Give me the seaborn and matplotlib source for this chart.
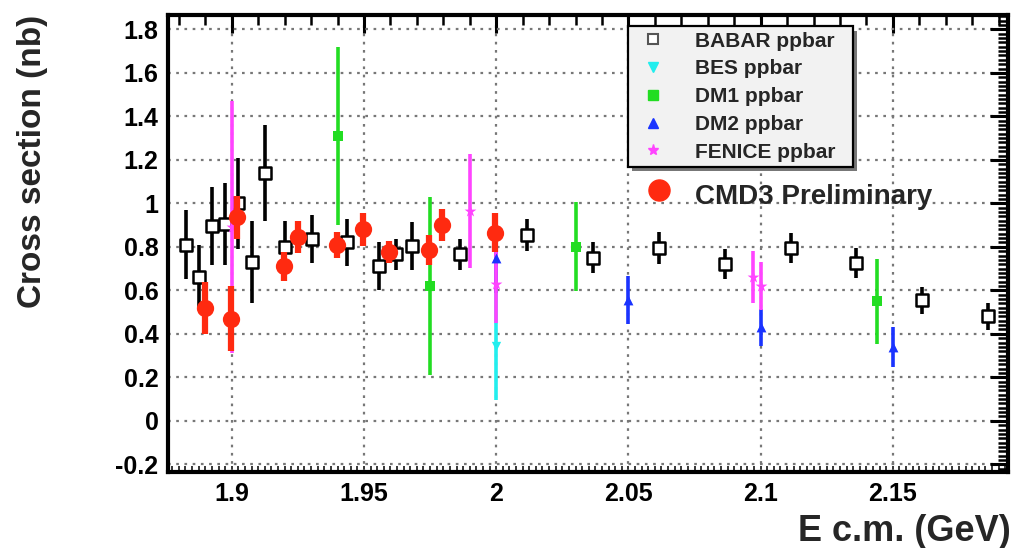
import numpy as np
import matplotlib
matplotlib.use("Agg")
import matplotlib.pyplot as plt
import seaborn as sns
from matplotlib.lines import Line2D
from matplotlib.ticker import MultipleLocator
import matplotlib.patheffects as pe

# ---- data ----
babar_x = [1.8826, 1.8875, 1.8925, 1.8975, 1.9025, 1.9075, 1.9125, 1.9200, 1.9305, 1.9435,
           1.9555, 1.9620, 1.9680, 1.9865, 2.0115, 2.0365, 2.0615, 2.0865, 2.1115, 2.1360,
           2.1610, 2.1860]
babar_y = [0.81, 0.66, 0.895, 0.905, 1.00, 0.73, 1.14, 0.80, 0.835, 0.82,
           0.71, 0.765, 0.805, 0.765, 0.855, 0.75, 0.795, 0.72, 0.795, 0.725,
           0.555, 0.48]
babar_err = [0.16, 0.15, 0.18, 0.19, 0.21, 0.19, 0.22, 0.12, 0.11, 0.11,
             0.11, 0.07, 0.11, 0.07, 0.075, 0.07, 0.075, 0.068, 0.07, 0.07,
             0.062, 0.062]

bes_x = [2.0]
bes_y = [0.345]
bes_err = [0.25]

dm1_x = [1.94, 1.975, 2.03, 2.144]
dm1_y = [1.31, 0.62, 0.80, 0.55]
dm1_err = [0.41, 0.41, 0.205, 0.195]

dm2_x = [2.0, 2.05, 2.1, 2.15]
dm2_y = [0.75, 0.555, 0.43, 0.34]
dm2_err = [0.16, 0.11, 0.085, 0.093]

fenice_x = [1.9, 1.99, 2.0, 2.097, 2.1]
fenice_y = [0.89, 0.965, 0.63, 0.66, 0.62]
fenice_err = [0.58, 0.26, 0.18, 0.12, 0.11]

cmd3_x = [1.8898, 1.8996, 1.9020, 1.9197, 1.9250, 1.9397, 1.9496, 1.9596, 1.9745, 1.9794, 1.9995]
cmd3_y = [0.52, 0.47, 0.935, 0.71, 0.845, 0.81, 0.88, 0.775, 0.785, 0.90, 0.865]
cmd3_err = [0.12, 0.15, 0.10, 0.065, 0.075, 0.06, 0.075, 0.05, 0.07, 0.073, 0.09]

# ---- style ----
sns.set_style("white")
plt.rcParams['font.family'] = ['Liberation Sans', 'DejaVu Sans']

fig = plt.figure(figsize=(10.18, 5.48), dpi=100)
ax = fig.add_axes([0.1653, 0.138, 0.8248, 0.8346])

# name, x, y, err, colour, marker, size
series = [
    ("BES ppbar", bes_x, bes_y, bes_err, "#22eeee", "v", 45),
    ("DM1 ppbar", dm1_x, dm1_y, dm1_err, "#22dd22", "s", 60),
    ("DM2 ppbar", dm2_x, dm2_y, dm2_err, "#1a33ff", "^", 50),
    ("FENICE ppbar", fenice_x, fenice_y, fenice_err, "#ff44ff", "*", 80),
]

# BABAR (black, open squares)
ax.errorbar(babar_x, babar_y, yerr=babar_err, fmt="none", ecolor="black", elinewidth=2.6, zorder=2)
sns.scatterplot(x=babar_x, y=babar_y, ax=ax, marker="s", s=65, facecolor="white",
                edgecolor="black", linewidth=1.8, zorder=3)

for name, xs, ys, es, col, mk, sz in series:
    ax.errorbar(xs, ys, yerr=es, fmt="none", ecolor=col, elinewidth=2.6, zorder=4)
    sns.scatterplot(x=xs, y=ys, ax=ax, marker=mk, s=sz, color=col, linewidth=0, zorder=5)

ax.errorbar(cmd3_x, cmd3_y, yerr=cmd3_err, fmt="none", ecolor="#ff2a10", elinewidth=4.5, zorder=6)
sns.scatterplot(x=cmd3_x, y=cmd3_y, ax=ax, marker="o", s=155, color="#ff2a10", linewidth=0, zorder=7)

# ---- axes ----
ax.set_xlim(1.876, 2.1935)
ax.set_ylim(-0.237, 1.866)
ax.xaxis.set_major_locator(MultipleLocator(0.05))
ax.xaxis.set_minor_locator(MultipleLocator(0.01))
ax.yaxis.set_major_locator(MultipleLocator(0.2))
ax.yaxis.set_minor_locator(MultipleLocator(0.02))
ax.xaxis.set_major_formatter(plt.FuncFormatter(lambda v, p: f"{v:.2f}".rstrip("0").rstrip(".")))
ax.yaxis.set_major_formatter(plt.FuncFormatter(lambda v, p: "0" if abs(v) < 1e-9 else f"{v:.1f}".rstrip("0").rstrip(".")))

ax.tick_params(which="both", direction="in", top=True, right=True, colors="black")
ax.tick_params(which="major", length=13, width=2.2, labelsize=18, pad=7)
ax.tick_params(which="minor", length=7, width=1.8)
for lab in ax.get_xticklabels() + ax.get_yticklabels():
    lab.set_fontweight("bold")
for sp in ax.spines.values():
    sp.set_linewidth(3)
    sp.set_color("black")

# tiny ticks along the bottom edge
sec = ax.secondary_xaxis("bottom")
sec.xaxis.set_major_locator(MultipleLocator(0.0025))
sec.tick_params(direction="in", length=4, width=1.3, labelbottom=False)
sec.spines["bottom"].set_visible(False)

ax.grid(True, which="major", linestyle=(0, (1.2, 2.5)), color="#777777", linewidth=1.6)
ax.set_axisbelow(True)

ax.set_xlabel("E c.m. (GeV)", fontsize=26, fontweight="bold", loc="right")
ax.xaxis.set_label_coords(1.003, -0.09)
ax.set_ylabel("Cross section (nb)", fontsize=24, fontweight="bold", loc="top")
ax.yaxis.set_label_coords(-0.143, 1.0)

# ---- legend ----
handles = [
    Line2D([], [], linestyle="none", marker="s", markersize=7, markerfacecolor="white",
           markeredgecolor="#555555", markeredgewidth=1.5, label="BABAR ppbar"),
]
for name, xs, ys, es, col, mk, sz in series:
    handles.append(Line2D([], [], linestyle="none", marker=mk, markersize=8 if mk == "*" else 7,
                          color=col, label=name))
leg = ax.legend(handles=handles, loc="upper left", bbox_to_anchor=(0.547, 0.975, 0.268, 0.0),
                mode="expand",
                prop={"family": "Liberation Sans", "weight": "bold", "size": 15},
                frameon=True, fancybox=False, shadow=False, labelspacing=0.42,
                handletextpad=1.1, borderpad=0.25, handlelength=1.9, borderaxespad=0)
leg.get_frame().set_facecolor("#f2f2f2")
leg.get_frame().set_edgecolor("black")
leg.get_frame().set_linewidth(1.6)
leg.get_frame().set_alpha(1)
leg.get_frame().set_path_effects([pe.SimplePatchShadow(offset=(3, -3), shadow_rgbFace="#555555", alpha=0.8), pe.Normal()])
leg.set_zorder(10)

# CMD3 label
ax.scatter([0.585], [0.617], transform=ax.transAxes, s=230, color="#ff2a10", zorder=11, clip_on=False)
ax.text(0.627, 0.602, "CMD3 Preliminary", transform=ax.transAxes, fontsize=20,
        fontweight="bold", va="center", ha="left", zorder=11)

fig.savefig("out.png", dpi=100)
